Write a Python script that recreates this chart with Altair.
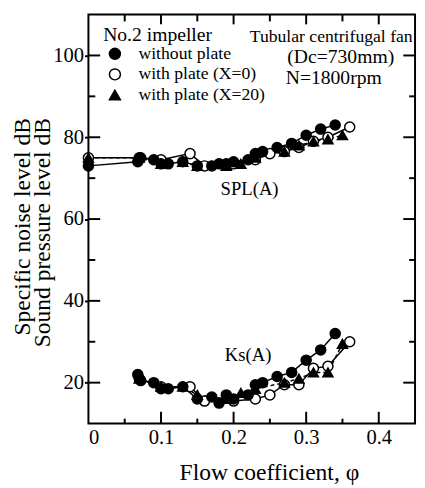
import altair as alt
import pandas as pd

# ---------------- data ----------------
series_names = ["without plate", "with plate (X=0)", "with plate (X=20)"]

# without plate (filled circles)
phi_spl_filled = [0.0, 0.068, 0.072, 0.09, 0.10, 0.11, 0.13, 0.15, 0.17, 0.18, 0.19, 0.20, 0.22, 0.23, 0.24, 0.26, 0.28, 0.30, 0.32, 0.34]
spl_filled =     [73.0, 74.0, 75.0, 74.5, 73.5, 73.5, 74.0, 73.0, 73.0, 73.5, 73.5, 74.0, 74.5, 76.0, 76.5, 77.5, 78.5, 80.5, 82.0, 83.0]
phi_ks_filled =  [0.068, 0.072, 0.09, 0.10, 0.11, 0.13, 0.15, 0.17, 0.18, 0.19, 0.20, 0.22, 0.23, 0.24, 0.26, 0.28, 0.30, 0.32, 0.34]
ks_filled =      [22.0, 20.5, 20.0, 18.5, 18.5, 19.0, 16.0, 16.5, 15.0, 17.0, 16.0, 17.0, 19.5, 20.0, 21.5, 22.5, 25.5, 28.0, 32.0]

# with plate (X=0) (open circles)
phi_spl_open = [0.0, 0.07, 0.10, 0.14, 0.16, 0.20, 0.23, 0.25, 0.27, 0.29, 0.31, 0.33, 0.36]
spl_open =     [75.0, 75.0, 74.5, 76.0, 73.0, 73.5, 74.5, 76.0, 76.5, 77.5, 79.0, 80.0, 82.5]
phi_ks_open =  [0.07, 0.10, 0.14, 0.16, 0.20, 0.23, 0.25, 0.27, 0.29, 0.31, 0.33, 0.36]
ks_open =      [21.0, 19.0, 19.0, 15.5, 15.5, 16.0, 17.0, 19.5, 19.5, 23.5, 24.0, 30.0]

# with plate (X=20) (filled triangles)
phi_spl_tri = [0.0, 0.07, 0.10, 0.13, 0.15, 0.19, 0.21, 0.23, 0.27, 0.29, 0.31, 0.33, 0.35]
spl_tri =     [75.0, 75.0, 73.5, 74.0, 73.0, 73.0, 73.5, 75.0, 76.5, 78.0, 79.0, 79.5, 80.5]
phi_ks_tri =  [0.07, 0.10, 0.13, 0.15, 0.19, 0.21, 0.23, 0.27, 0.29, 0.31, 0.33, 0.35]
ks_tri =      [21.0, 19.0, 19.0, 17.0, 16.0, 17.5, 18.5, 20.0, 21.0, 22.5, 22.5, 29.5]

y_major = [20, 40, 60, 80, 100]
y_minor = [30, 50, 70, 90]
x_major = [0.1, 0.2, 0.3, 0.4]
x_minor = [0.05, 0.15, 0.25, 0.35]
x_labels = [0, 0.1, 0.2, 0.3, 0.4]

ann_text = ["Tubular centrifugal fan", "(Dc=730mm)", "N=1800rpm", "SPL(A)", "Ks(A)"]
ann_phi = [0.3345, 0.3476, 0.338, 0.222, 0.220]
ann_val = [104.5, 99.7, 94.4, 67.3, 26.8]
ann_size = [18, 20, 20, 19, 19]

# ---------------- build tables ----------------
rows = []
def add(phis, vals, s, q):
    for p, v in zip(phis, vals):
        rows.append({"phi": p, "val": v, "series": s, "qty": q})
add(phi_spl_filled, spl_filled, series_names[0], "SPL")
add(phi_ks_filled, ks_filled, series_names[0], "Ks")
add(phi_spl_open, spl_open, series_names[1], "SPL")
add(phi_ks_open, ks_open, series_names[1], "Ks")
add(phi_spl_tri, spl_tri, series_names[2], "SPL")
add(phi_ks_tri, ks_tri, series_names[2], "Ks")
df = pd.DataFrame(rows)
df["grp"] = df["series"] + "_" + df["qty"]
df["order"] = df["series"].map({series_names[0]: 2, series_names[1]: 0, series_names[2]: 1})

FONT = "Liberation Serif"
W, H = 333, 417
xs = alt.Scale(domain=[0, 0.45], nice=False, zero=False)
ys = alt.Scale(domain=[10, 110], nice=False, zero=False)

x_axis = alt.Axis(values=x_labels, format="~g", ticks=False, domain=False, grid=False,
                  labelFont=FONT, labelFontSize=21, labelColor="black", labelPadding=3,
                  title="Flow coefficient, φ", titleFont=FONT, titleFontSize=24, titleFontWeight="normal",
                  titleColor="black", titleX=184, titleY=57, titleBaseline="alphabetic", titleAlign="center")
y_axis = alt.Axis(values=y_major, tickSize=4, tickWidth=2, tickColor="black", domain=False, grid=False,
                  labelFont=FONT, labelFontSize=21, labelColor="black", labelPadding=1,
                  title=["Specific noise level dB", "Sound pressure level dB"], titleFont=FONT,
                  titleFontSize=24, titleFontWeight="normal", titleColor="black", titleAngle=270,
                  titleAlign="right", titleBaseline="alphabetic", titleX=-60, titleY=105, titleLineHeight=20)

base = alt.Chart(df).encode(
    x=alt.X("phi:Q", scale=xs, axis=x_axis),
    y=alt.Y("val:Q", scale=ys, axis=y_axis),
)

lines_solid = base.transform_filter(alt.datum.series != series_names[2]).mark_line(
    color="black", strokeWidth=1.5).encode(detail="grp:N", order="phi:Q")
lines_dash = base.transform_filter(alt.datum.series == series_names[2]).mark_line(
    color="black", strokeWidth=1.5, strokeDash=[4, 3]).encode(detail="grp:N", order="phi:Q")

leg = alt.Legend(orient="none", legendX=15, legendY=11, title="No.2 impeller")
points = base.mark_point(strokeWidth=1.5, opacity=1, size=105).encode(
    shape=alt.Shape("series:N", scale=alt.Scale(domain=series_names, range=["circle", "circle", "triangle-up"]), legend=leg),
    fill=alt.Fill("series:N", scale=alt.Scale(domain=series_names, range=["black", "white", "black"]), legend=leg),
    stroke=alt.Stroke("series:N", scale=alt.Scale(domain=series_names, range=["black", "black", "black"]), legend=leg),
    order="order:Q",
)

ann = alt.Chart(pd.DataFrame({"t": ann_text, "phi": ann_phi, "val": ann_val, "fs": ann_size})).mark_text(
    font=FONT, color="black", align="center", baseline="middle").encode(
    x=alt.X("phi:Q", scale=xs), y=alt.Y("val:Q", scale=ys), text="t:N",
    size=alt.Size("fs:Q", scale=None, legend=None))

def tick_layer(vals, horizontal, start, end):
    if horizontal:
        d = pd.DataFrame({"val": vals})
        return alt.Chart(d).mark_rule(color="black", strokeWidth=2).encode(
            y=alt.Y("val:Q", scale=ys), x=alt.value(start), x2=alt.value(end))
    d = pd.DataFrame({"phi": vals})
    return alt.Chart(d).mark_rule(color="black", strokeWidth=2).encode(
        x=alt.X("phi:Q", scale=xs), y=alt.value(start), y2=alt.value(end))

ticks = [
    tick_layer(y_major, True, 0, 12),
    tick_layer(y_minor, True, 0, 7),
    tick_layer(y_major, True, W - 12, W),
    tick_layer(y_minor, True, W - 6, W),
    tick_layer(x_major, False, H - 12, H),
    tick_layer(x_minor, False, H - 5, H),
    tick_layer(x_major, False, 0, 10),
    tick_layer(x_minor, False, 0, 7),
]

chart = alt.layer(lines_solid, lines_dash, points, *ticks, ann).properties(
    width=W, height=H,
    padding={"left": 82, "top": 2, "right": 2, "bottom": 60},
    autosize=alt.AutoSizeParams(type="none"),
    background="white",
).configure_view(stroke="black", strokeWidth=2).configure_legend(
    titleFont=FONT, titleFontSize=20, titleFontWeight="normal", titleColor="black", titlePadding=0,
    labelFont=FONT, labelFontSize=18, labelColor="black", symbolSize=125, symbolOffset=3,
    symbolStrokeWidth=1.5, padding=0, rowPadding=3, labelOffset=15,
)

chart.save("out.html", embed_options={"renderer": "svg", "actions": False})
